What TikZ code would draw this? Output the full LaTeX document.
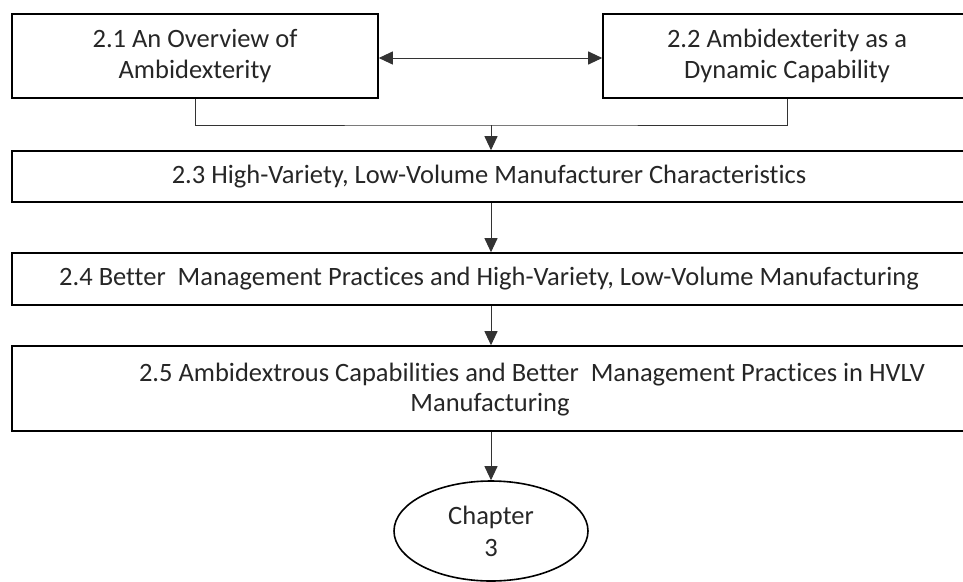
\documentclass[tikz,border=0pt]{standalone}
\usepackage{fontspec}
\setmainfont{Carlito}[Ligatures=NoCommon]
\usetikzlibrary{arrows.meta,shapes.geometric}
\begin{document}
\begin{tikzpicture}[x=1pt,y=-1pt,
  font=\fontsize{26.5}{31}\selectfont,
  box/.style={draw=black,line width=1.6pt,rectangle,inner sep=0pt,align=center,text=black!85},
  txt/.style={inner sep=0pt,text=black!85},
  conn/.style={draw=black!80,line width=1pt},
  arr/.style={conn,-{Triangle[length=14pt,width=13pt]}},
  darr/.style={conn,{Triangle[length=14pt,width=13pt]}-{Triangle[length=14pt,width=13pt]}}]
\useasboundingbox (0,0) rectangle (963,581);
\clip (0,0) rectangle (963,581);
\node[box,minimum width=366pt,minimum height=84pt] (b1) at (195,56) {2.1 An Overview of\\Ambidexterity};
\node[box,minimum width=368pt,minimum height=84pt] (b2) at (787,56) {2.2 Ambidexterity as a\\Dynamic Capability};
\node[box,minimum width=954pt,minimum height=51pt] (b3) at (489,176.5) {2.3 High-Variety, Low-Volume Manufacturer Characteristics};
\node[box,minimum width=954pt,minimum height=52pt] (b4) at (489,279) {2.4 Better\ \ Management Practices and High-Variety, Low-Volume Manufacturing};
\node[box,minimum width=954pt,minimum height=85pt] (b5) at (489,388.5) {};
\node[txt] (t5a) at (532,374.5) {2.5 Ambidextrous Capabilities and Better\ \ Management Practices in HVLV};
\node[txt] (t5b) at (490,405) {Manufacturing};
\node[draw=black,line width=1.6pt,ellipse,minimum width=194pt,minimum height=100pt,inner sep=0pt,align=center,text=black!85] (c3) at (491,531) {Chapter\\[1pt]3};
\coordinate (j) at (491,125);
\draw[darr] ([yshift=-2pt]b1.east) -- ([yshift=-2pt]b2.west);
\draw[conn] (b1.south) |- (j) -| (b2.south);
\draw[arr] (j) -- (j |- b3.north);
\draw[arr] (j |- b3.south) -- (j |- b4.north);
\draw[arr] (j |- b4.south) -- (j |- b5.north);
\draw[arr] (j |- b5.south) -- (c3.north);
\end{tikzpicture}
\end{document}
